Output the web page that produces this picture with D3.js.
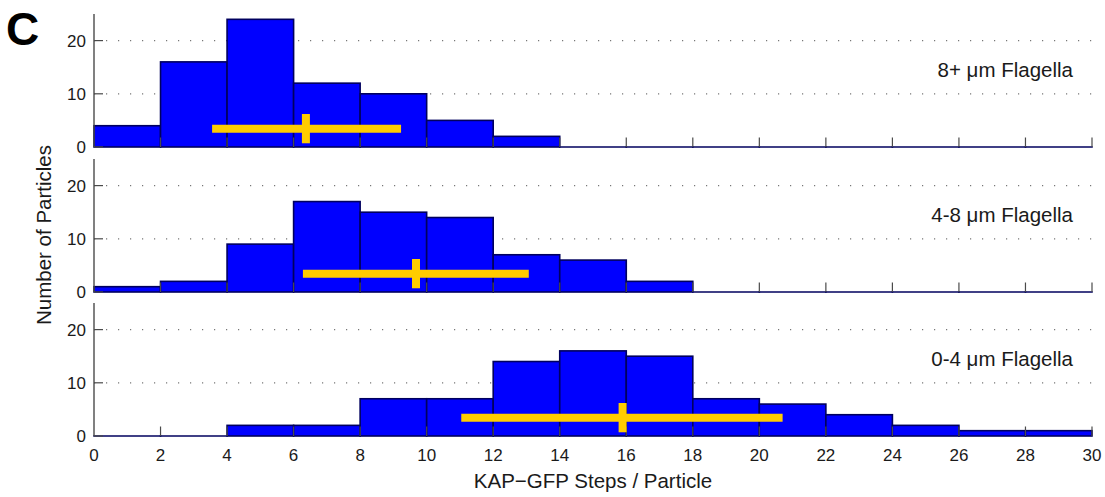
<!DOCTYPE html>
<html>
<head>
<meta charset="utf-8">
<script src="https://cdn.jsdelivr.net/npm/d3@7"></script>
<style>
  html, body { margin: 0; padding: 0; background: #fff; }
  svg { display: block; font-family: "Liberation Sans", Arial, sans-serif; }
</style>
</head>
<body>
<svg id="chart" width="1105" height="497"></svg>
<script>
// Histogram bin edges (KAP-GFP steps per particle), 2-step bins from 0 to 30
const binEdges = d3.range(0, 32, 2);
const xTicks = d3.range(0, 32, 2);
const yTicks = [0, 10, 20];

// Particle counts per bin, one array per flagellar length group
const countsLong = [4, 16, 24, 12, 10, 5, 2, 0, 0, 0, 0, 0, 0, 0, 0];
const countsMid = [1, 2, 9, 17, 15, 14, 7, 6, 2, 0, 0, 0, 0, 0, 0];
const countsShort = [0, 0, 2, 2, 7, 7, 14, 16, 15, 7, 6, 4, 2, 1, 1];

// Mean and spread (low, high) of steps per particle for each group
const meanLong = [6.37, 3.55, 9.23];
const meanMid = [9.68, 6.28, 13.07];
const meanShort = [15.89, 11.04, 20.7];

const panelLabels = ["8+ \u03bcm Flagella", "4-8 \u03bcm Flagella", "0-4 \u03bcm Flagella"];

const panels = [
  { counts: countsLong, stats: meanLong, label: panelLabels[0] },
  { counts: countsMid, stats: meanMid, label: panelLabels[1] },
  { counts: countsShort, stats: meanShort, label: panelLabels[2] }
];

const svg = d3.select("#chart");
const x = d3.scaleLinear().domain([0, 30]).range([94, 1092]);
const panelBottoms = [147, 292, 436];
const panelHeight = 133;

const navy = "#00005e";
const axisGray = "#4a4a4a";
const gold = "#ffcc00";
const barLevel = 3.45;   // vertical position of the spread bar, in counts
const crossHalf = 2.75;  // half-height of the mean marker, in counts

panels.forEach((p, i) => {
  const y = d3.scaleLinear().domain([0, 25]).range([panelBottoms[i], panelBottoms[i] - panelHeight]);
  const g = svg.append("g");

  // dotted horizontal grid
  g.selectAll("line.grid").data(yTicks.filter(t => t > 0)).join("line")
    .attr("x1", x(0)).attr("x2", x(30))
    .attr("y1", d => y(d)).attr("y2", d => y(d))
    .attr("stroke", "#777").attr("stroke-width", 1.2)
    .attr("stroke-dasharray", "1.2,10.8");

  // histogram bars
  const bins = p.counts.map((c, k) => ({ x0: binEdges[k], x1: binEdges[k + 1], c }));
  g.selectAll("rect.bar").data(bins.filter(d => d.c > 0)).join("rect")
    .attr("x", d => x(d.x0))
    .attr("width", d => x(d.x1) - x(d.x0))
    .attr("y", d => y(d.c))
    .attr("height", d => y(0) - y(d.c))
    .attr("fill", "#0000ff")
    .attr("stroke", navy).attr("stroke-width", 1.6);

  // empty bins collapse to their outline along the baseline
  g.selectAll("line.empty").data(bins.filter(d => d.c === 0)).join("line")
    .attr("x1", d => x(d.x0)).attr("x2", d => x(d.x1))
    .attr("y1", y(0)).attr("y2", y(0))
    .attr("stroke", navy).attr("stroke-width", 1.6).attr("stroke-linecap", "square");

  // x-axis ticks (inward)
  g.selectAll("line.xt").data(xTicks.slice(1)).join("line")
    .attr("x1", d => x(d)).attr("x2", d => x(d))
    .attr("y1", y(0)).attr("y2", y(0) - 9.5)
    .attr("stroke", axisGray).attr("stroke-width", 1.2);

  // y-axis line and ticks
  g.append("line")
    .attr("x1", x(0)).attr("x2", x(0))
    .attr("y1", y(25)).attr("y2", y(0))
    .attr("stroke", axisGray).attr("stroke-width", 1.4);
  g.selectAll("line.yt").data(yTicks).join("line")
    .attr("x1", x(0)).attr("x2", x(0) + 9)
    .attr("y1", d => y(d)).attr("y2", d => y(d))
    .attr("stroke", axisGray).attr("stroke-width", 1.2);
  g.selectAll("text.yl").data(yTicks).join("text")
    .attr("x", x(0) - 8).attr("y", d => y(d) + 6)
    .attr("text-anchor", "end")
    .attr("font-size", 17).attr("fill", "#1a1a1a")
    .text(d => d);

  // spread bar and mean marker
  const [m, lo, hi] = p.stats;
  g.append("line")
    .attr("x1", x(lo)).attr("x2", x(hi))
    .attr("y1", y(barLevel)).attr("y2", y(barLevel))
    .attr("stroke", gold).attr("stroke-width", 8);
  g.append("line")
    .attr("x1", x(m)).attr("x2", x(m))
    .attr("y1", y(barLevel + crossHalf)).attr("y2", y(barLevel - crossHalf))
    .attr("stroke", gold).attr("stroke-width", 8);

  // group label
  g.append("text")
    .attr("x", 1073).attr("y", y(0) - 70)
    .attr("text-anchor", "end")
    .attr("font-size", 20.5).attr("fill", "#1a1a1a")
    .text(p.label);

  // x tick labels on the bottom panel only
  if (i === panels.length - 1) {
    g.selectAll("text.xl").data(xTicks).join("text")
      .attr("x", d => x(d)).attr("y", y(0) + 25)
      .attr("text-anchor", "middle")
      .attr("font-size", 17).attr("fill", "#1a1a1a")
      .text(d => d);
  }
});

// axis titles
svg.append("text")
  .attr("x", 593).attr("y", 488)
  .attr("text-anchor", "middle")
  .attr("font-size", 20.5).attr("fill", "#1a1a1a")
  .text("KAP\u2212GFP Steps / Particle");

svg.append("text")
  .attr("transform", "translate(51,235) rotate(-90)")
  .attr("text-anchor", "middle")
  .attr("font-size", 20.5).attr("fill", "#1a1a1a")
  .text("Number of Particles");

// panel letter
svg.append("text")
  .attr("x", 6).attr("y", 45)
  .attr("font-size", 46).attr("font-weight", "bold").attr("fill", "#000")
  .text("C");
</script>
</body>
</html>
